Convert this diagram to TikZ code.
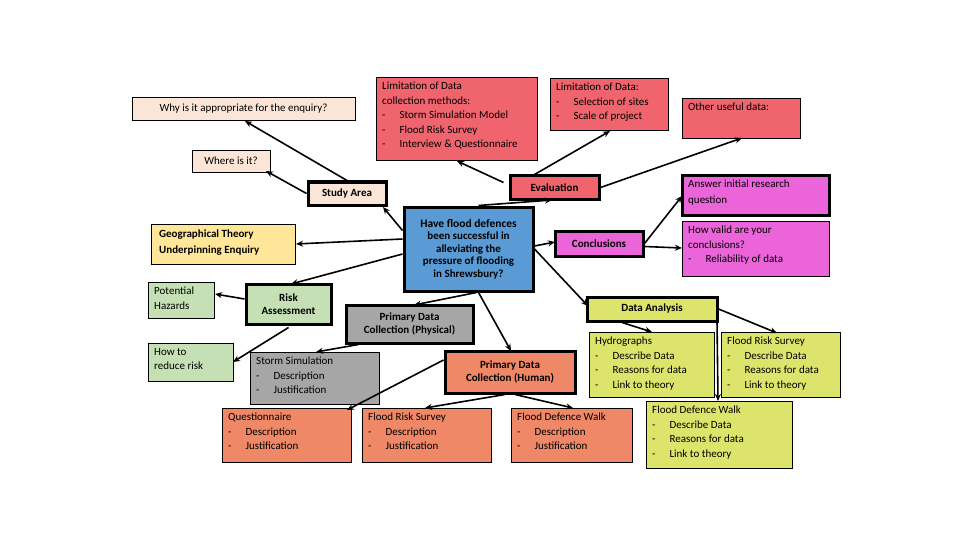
\documentclass[tikz,border=0pt]{standalone}
\usepackage{fontspec}
\setmainfont{Carlito}
\usetikzlibrary{arrows.meta}
\definecolor{peach}{HTML}{FBE5D6}
\definecolor{rose}{HTML}{F0646E}
\definecolor{mag}{HTML}{EC64DA}
\definecolor{blu}{HTML}{5B9BD5}
\definecolor{yel}{HTML}{FFE699}
\definecolor{grn}{HTML}{C5E0B4}
\definecolor{gry}{HTML}{A6A6A6}
\definecolor{org}{HTML}{EE8866}
\definecolor{lime}{HTML}{DDE46C}
\begin{document}
\begin{tikzpicture}[x=1pt,y=-1pt,
  bx/.style={draw,line width=0.6pt,inner sep=0pt,font=\fontsize{11}{12.5}\selectfont},
  tk/.style={bx,line width=3pt,font=\bfseries\fontsize{11}{12.5}\selectfont},
  ar/.style={-{Stealth[length=7pt,width=6pt]},line width=1.6pt}]
\useasboundingbox (0,0) rectangle (960,540);
\newcommand\bxx[7]{\node[#1,fill=#2,minimum width=#5-#3,minimum height=#6-#4,anchor=north west,text width=#5-#3-12,align=left] (#7) at (#3,#4) {};}
% helper: box + text
\newcommand\B[8]{\node[#1,fill=#2,minimum width=#5-#3,minimum height=#6-#4] (#7) at ({(#3+#5)/2},{(#4+#6)/2}) {};\node[anchor=north west,font=\fontsize{11}{14.5}\selectfont,align=left,inner sep=0pt] at (#3+6,#4+5) {#8};}
\newcommand\C[8]{\node[#1,fill=#2,minimum width=#5-#3,minimum height=#6-#4,align=center] (#7) at ({(#3+#5)/2},{(#4+#6)/2}) {#8};}
\def\dl#1{-\hspace{14pt}#1}
\C{bx}{peach}{132}{97}{355}{120}{why}{Why is it appropriate for the enquiry?}
\C{bx}{peach}{192}{150}{270}{172}{where}{Where is it?}
\C{tk}{peach}{308}{182}{386}{205}{study}{Study Area}
\B{bx}{rose}{376}{77}{537}{160}{lim1}{Limitation of Data\\collection methods:\\\dl{Storm Simulation Model}\\\dl{Flood Risk Survey}\\\dl{Interview \& Questionnaire}}
\C{tk}{rose}{510}{176}{599}{199}{eval}{Evaluation}
\B{bx}{rose}{550}{78}{668}{130}{lim2}{Limitation of Data:\\\dl{Selection of sites}\\\dl{Scale of project}}
\B{bx}{rose}{682}{98}{800}{138}{other}{Other useful data:}
\node[tk,fill=mag,minimum width=147,minimum height=39] (ans) at (755.5,195.5) {};
\node[anchor=north west,align=left,inner sep=0pt,font=\fontsize{11}{16}\selectfont] at (688,180) {Answer initial research\\question};
\B{bx}{mag}{682}{221}{829}{276}{valid}{How valid are your\\conclusions?\\\dl{Reliability of data}}
\C{tk}{mag}{555}{231}{643}{256}{concl}{Conclusions}
\C{tk}{blu}{404}{207}{533}{291}{central}{\fontsize{11.5}{13}\selectfont Have flood defences\\been successful in\\alleviating the\\pressure of flooding\\in Shrewsbury?}
\node[bx,fill=yel,minimum width=144,minimum height=40] (geo) at (223,244) {};
\node[anchor=north west,align=left,inner sep=0pt,font=\bfseries\fontsize{11}{16}\selectfont] at (159,230) {Geographical Theory\\Underpinning Enquiry};
\B{bx}{grn}{148}{282}{214}{318}{haz}{Potential\\Hazards}
\C{tk}{grn}{246}{284}{331}{324}{risk}{Risk\\Assessment}
\B{bx}{grn}{148}{343}{233}{381}{reduce}{How to\\reduce risk}
\C{tk}{gry}{346}{305}{473}{343}{phys}{Primary Data\\Collection (Physical)}
\B{bx}{gry}{250}{352}{379}{404}{storm}{Storm Simulation\\\dl{Description}\\\dl{Justification}}
\C{tk}{org}{445}{351}{575}{393}{human}{Primary Data\\Collection (Human)}
\B{bx}{org}{222}{408}{351}{462}{quest}{Questionnaire\\\dl{Description}\\\dl{Justification}}
\B{bx}{org}{362}{408}{491}{462}{frs}{Flood Risk Survey\\\dl{Description}\\\dl{Justification}}
\B{bx}{org}{511}{408}{632}{462}{fdw}{Flood Defence Walk\\\dl{Description}\\\dl{Justification}}
\C{tk}{lime}{587}{297}{717}{321}{da}{Data Analysis}
\B{bx}{lime}{589}{332}{714}{397}{hyd}{Hydrographs\\\dl{Describe Data}\\\dl{Reasons for data}\\\dl{Link to theory}}
\B{bx}{lime}{721}{332}{840}{397}{frs2}{Flood Risk Survey\\\dl{Describe Data}\\\dl{Reasons for data}\\\dl{Link to theory}}
\B{bx}{lime}{646}{401}{792}{468}{fdw2}{Flood Defence Walk\\\dl{Describe Data}\\\dl{Reasons for data}\\\dl{Link to theory}}
% arrows
\draw[ar] (study.north) -- (245,121);
\draw[ar] (study.west) -- (266,171);
\draw[ar] (central.north west) ++(0,25) -- (383,207);
\draw[ar] (central.west) ++(0,-10) -- (296,244);
\draw[ar] (central.west) ++(0,5) -- (291,284);
\draw[ar] (central.south) ++(8,0) -- (414,305);
\draw[ar] (central.south) ++(10,0) -- (511,351);
\draw[ar] (central.north) ++(10,0) -- (552,200);
\draw[ar] (central.east) ++(0,-3) -- (555,242);
\draw[ar] (central.east) ++(0,0) -- (588,306);
\draw[ar] (eval.west) ++(-5,-5) -- (457,161);
\draw[ar] (eval.north) ++(-20,0) -- (610,131);
\draw[ar] (eval.east) ++(0,0) -- (742,138);
\draw[ar] (concl.east) -- (682,196);
\draw[ar] (concl.east) ++(0,3) -- (682,248);
\draw[ar] (risk.west) ++(0,-5) -- (215,294);
\draw[ar] (risk.south) ++(0,2) -- (233,362);
\draw[ar] (phys.south west) ++(14,0) -- (316,352);
\draw[ar] (human.west) ++(0,-12) -- (347,410);
\draw[ar] (human.south) ++(-5,0) -- (425,408);
\draw[ar] (human.south) ++(5,0) -- (573,408);
\draw[ar] (da.south) ++(-30,0) -- (652,332);
\draw[ar] (da.east) -- (777,333);
\draw[ar] (717,321) -- (718,401);
\end{tikzpicture}
\end{document}
